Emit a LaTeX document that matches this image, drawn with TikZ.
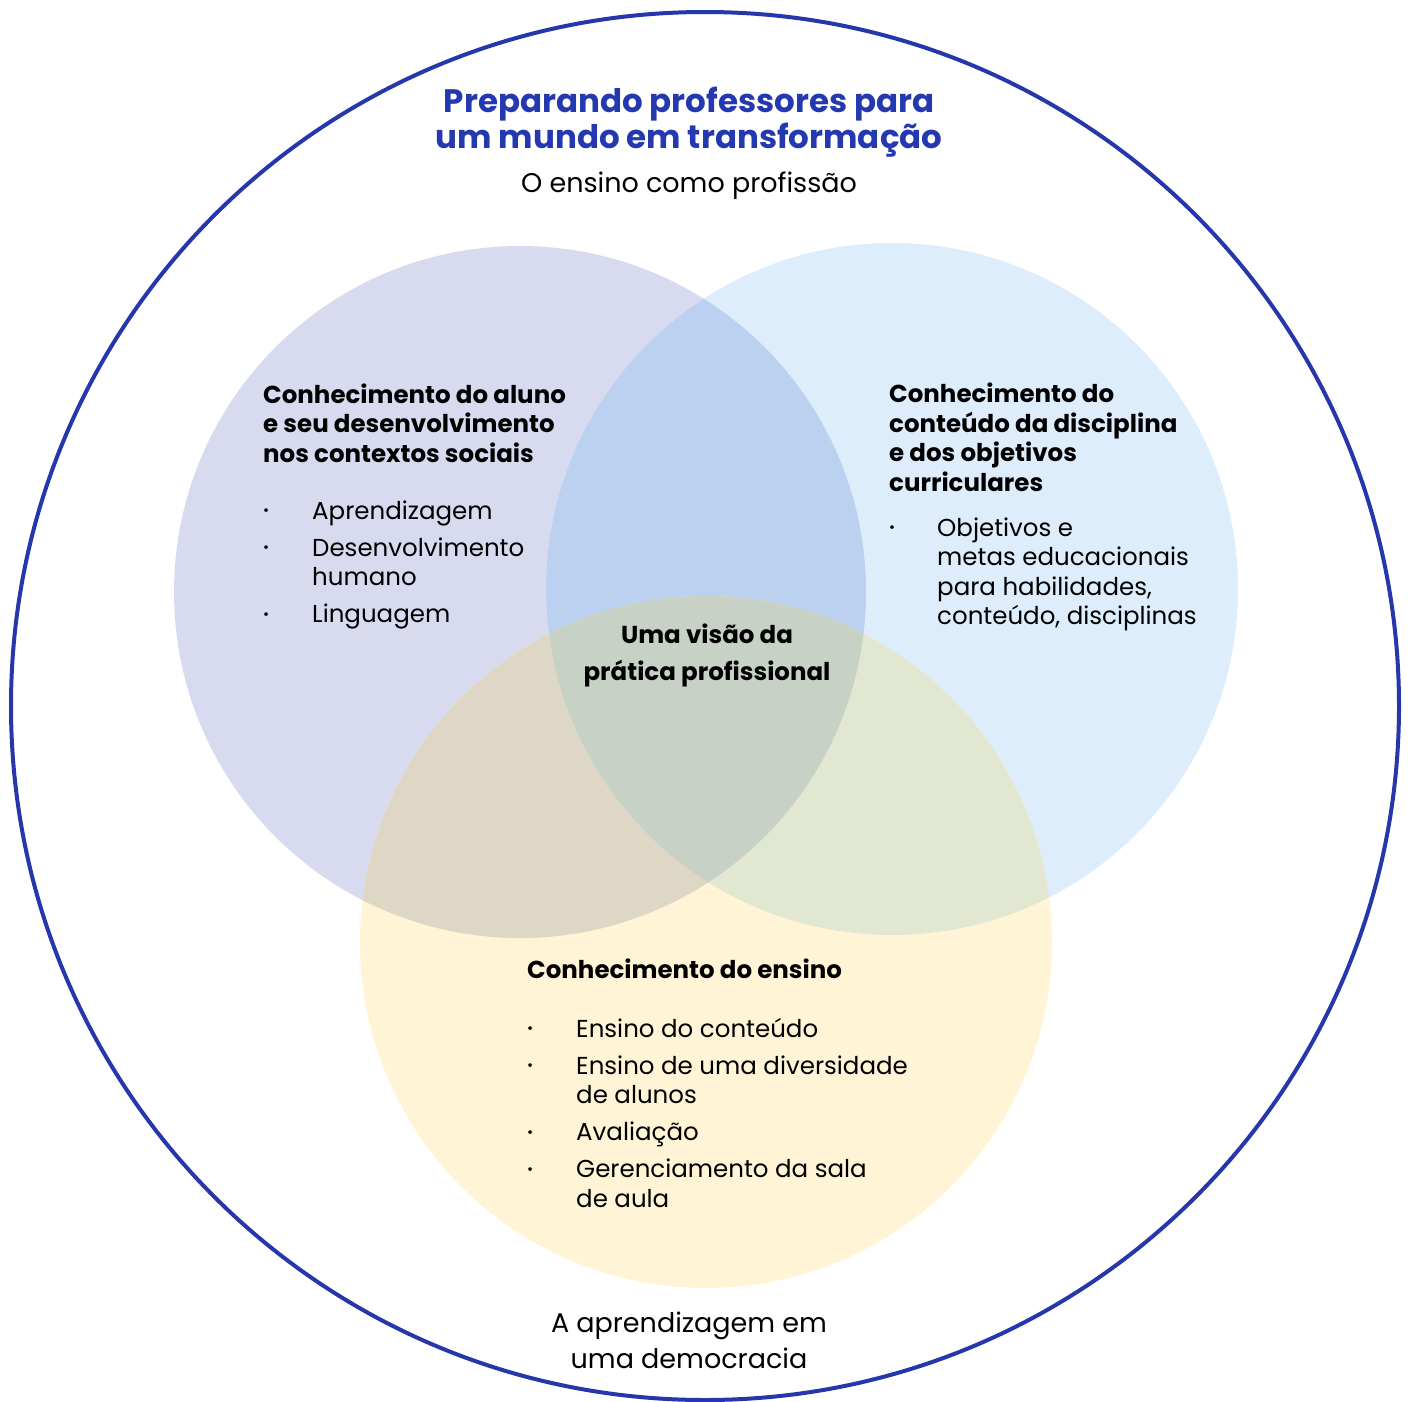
\documentclass[tikz,border=0pt]{standalone}
\usepackage{fontspec}
\setmainfont{Poppins}
\usepackage{array}

\definecolor{ringblue}{HTML}{2537AA}
\definecolor{titleblue}{HTML}{2438B0}
\definecolor{learnerfill}{HTML}{D8DBEF}
\definecolor{contentfill}{HTML}{DDEDFC}
\definecolor{teachfill}{HTML}{FFF5D6}
\definecolor{lcfill}{HTML}{BCD1F0}
\definecolor{ltfill}{HTML}{DED7C6}
\definecolor{ctfill}{HTML}{E2E7D2}
\definecolor{allfill}{HTML}{C7D1C5}

\tikzset{
    heading/.style={anchor=base west, align=left, inner sep=0pt,
        font=\bfseries\fontsize{24.5}{29.5}\selectfont},
    itemlist/.style={anchor=base west, inner sep=0pt,
        font=\fontsize{24.5}{29.5}\selectfont},
    bigtext/.style={anchor=base, align=center, inner sep=0pt,
        font=\fontsize{27}{36}\selectfont},
}
\newcommand{\itm}{\raisebox{3.5pt}{\scalebox{0.6}{\textbullet}}}

\begin{document}
\begin{tikzpicture}[x=1pt, y=-1pt]
    \useasboundingbox (0,0) rectangle (1408,1401);
    \def\learner{(520,592) circle [radius=346pt]}
    \def\content{(892,589) circle [radius=346pt]}
    \def\teach{(706,942) circle [radius=346pt]}
    % the three circles and their overlaps
    \fill[learnerfill] \learner;
    \fill[contentfill] \content;
    \fill[teachfill] \teach;
    \begin{scope}
        \clip \learner;
        \fill[lcfill] \content;
    \end{scope}
    \begin{scope}
        \clip \learner;
        \fill[ltfill] \teach;
    \end{scope}
    \begin{scope}
        \clip \content;
        \fill[ctfill] \teach;
    \end{scope}
    \begin{scope}
        \clip \learner;
        \clip \content;
        \fill[allfill] \teach;
    \end{scope}
    \draw[ringblue, line width=4pt] (705,706) circle [radius=694pt];

    % texts (base = last line)
    \node[bigtext, text=titleblue, font=\bfseries\fontsize{32.5}{36}\selectfont] (title) at (689,148) {Preparando professores para\\um mundo em transformação};
    \node[bigtext] (profession) at (689,192) {O ensino como profissão};
    \node[bigtext] (democracy) at (689,1368) {A aprendizagem em\\uma democracia};

    \node[heading] (learnerhead) at (263,462) {Conhecimento do aluno\\e seu desenvolvimento\\nos contextos sociais};
    \node[itemlist] (learnerlist) at (263,519) {\begin{tabular}[t]{@{}p{49pt}@{}l@{}}
        \itm & Aprendizagem\\[7.5pt]
        \itm & Desenvolvimento\\
             & humano\\[7.5pt]
        \itm & Linguagem
    \end{tabular}};

    \node[heading] (contenthead) at (889,491) {Conhecimento do\\conteúdo da disciplina\\e dos objetivos\\curriculares};
    \node[itemlist] (contentlist) at (889,536) {\begin{tabular}[t]{@{}p{48pt}@{}l@{}}
        \itm & Objetivos e\\
             & metas educacionais\\
             & para habilidades,\\
             & conteúdo, disciplinas
    \end{tabular}};

    \node[bigtext, font=\bfseries\fontsize{24.5}{37}\selectfont] (vision) at (707,680) {Uma visão da\\prática profissional};

    \node[heading] (teachhead) at (527,978) {Conhecimento do ensino};
    \node[itemlist] (teachlist) at (527,1037) {\begin{tabular}[t]{@{}p{49pt}@{}l@{}}
        \itm & Ensino do conteúdo\\[7.5pt]
        \itm & Ensino de uma diversidade\\
             & de alunos\\[7.5pt]
        \itm & Avaliação\\[7.5pt]
        \itm & Gerenciamento da sala\\
             & de aula
    \end{tabular}};
\end{tikzpicture}
\end{document}
